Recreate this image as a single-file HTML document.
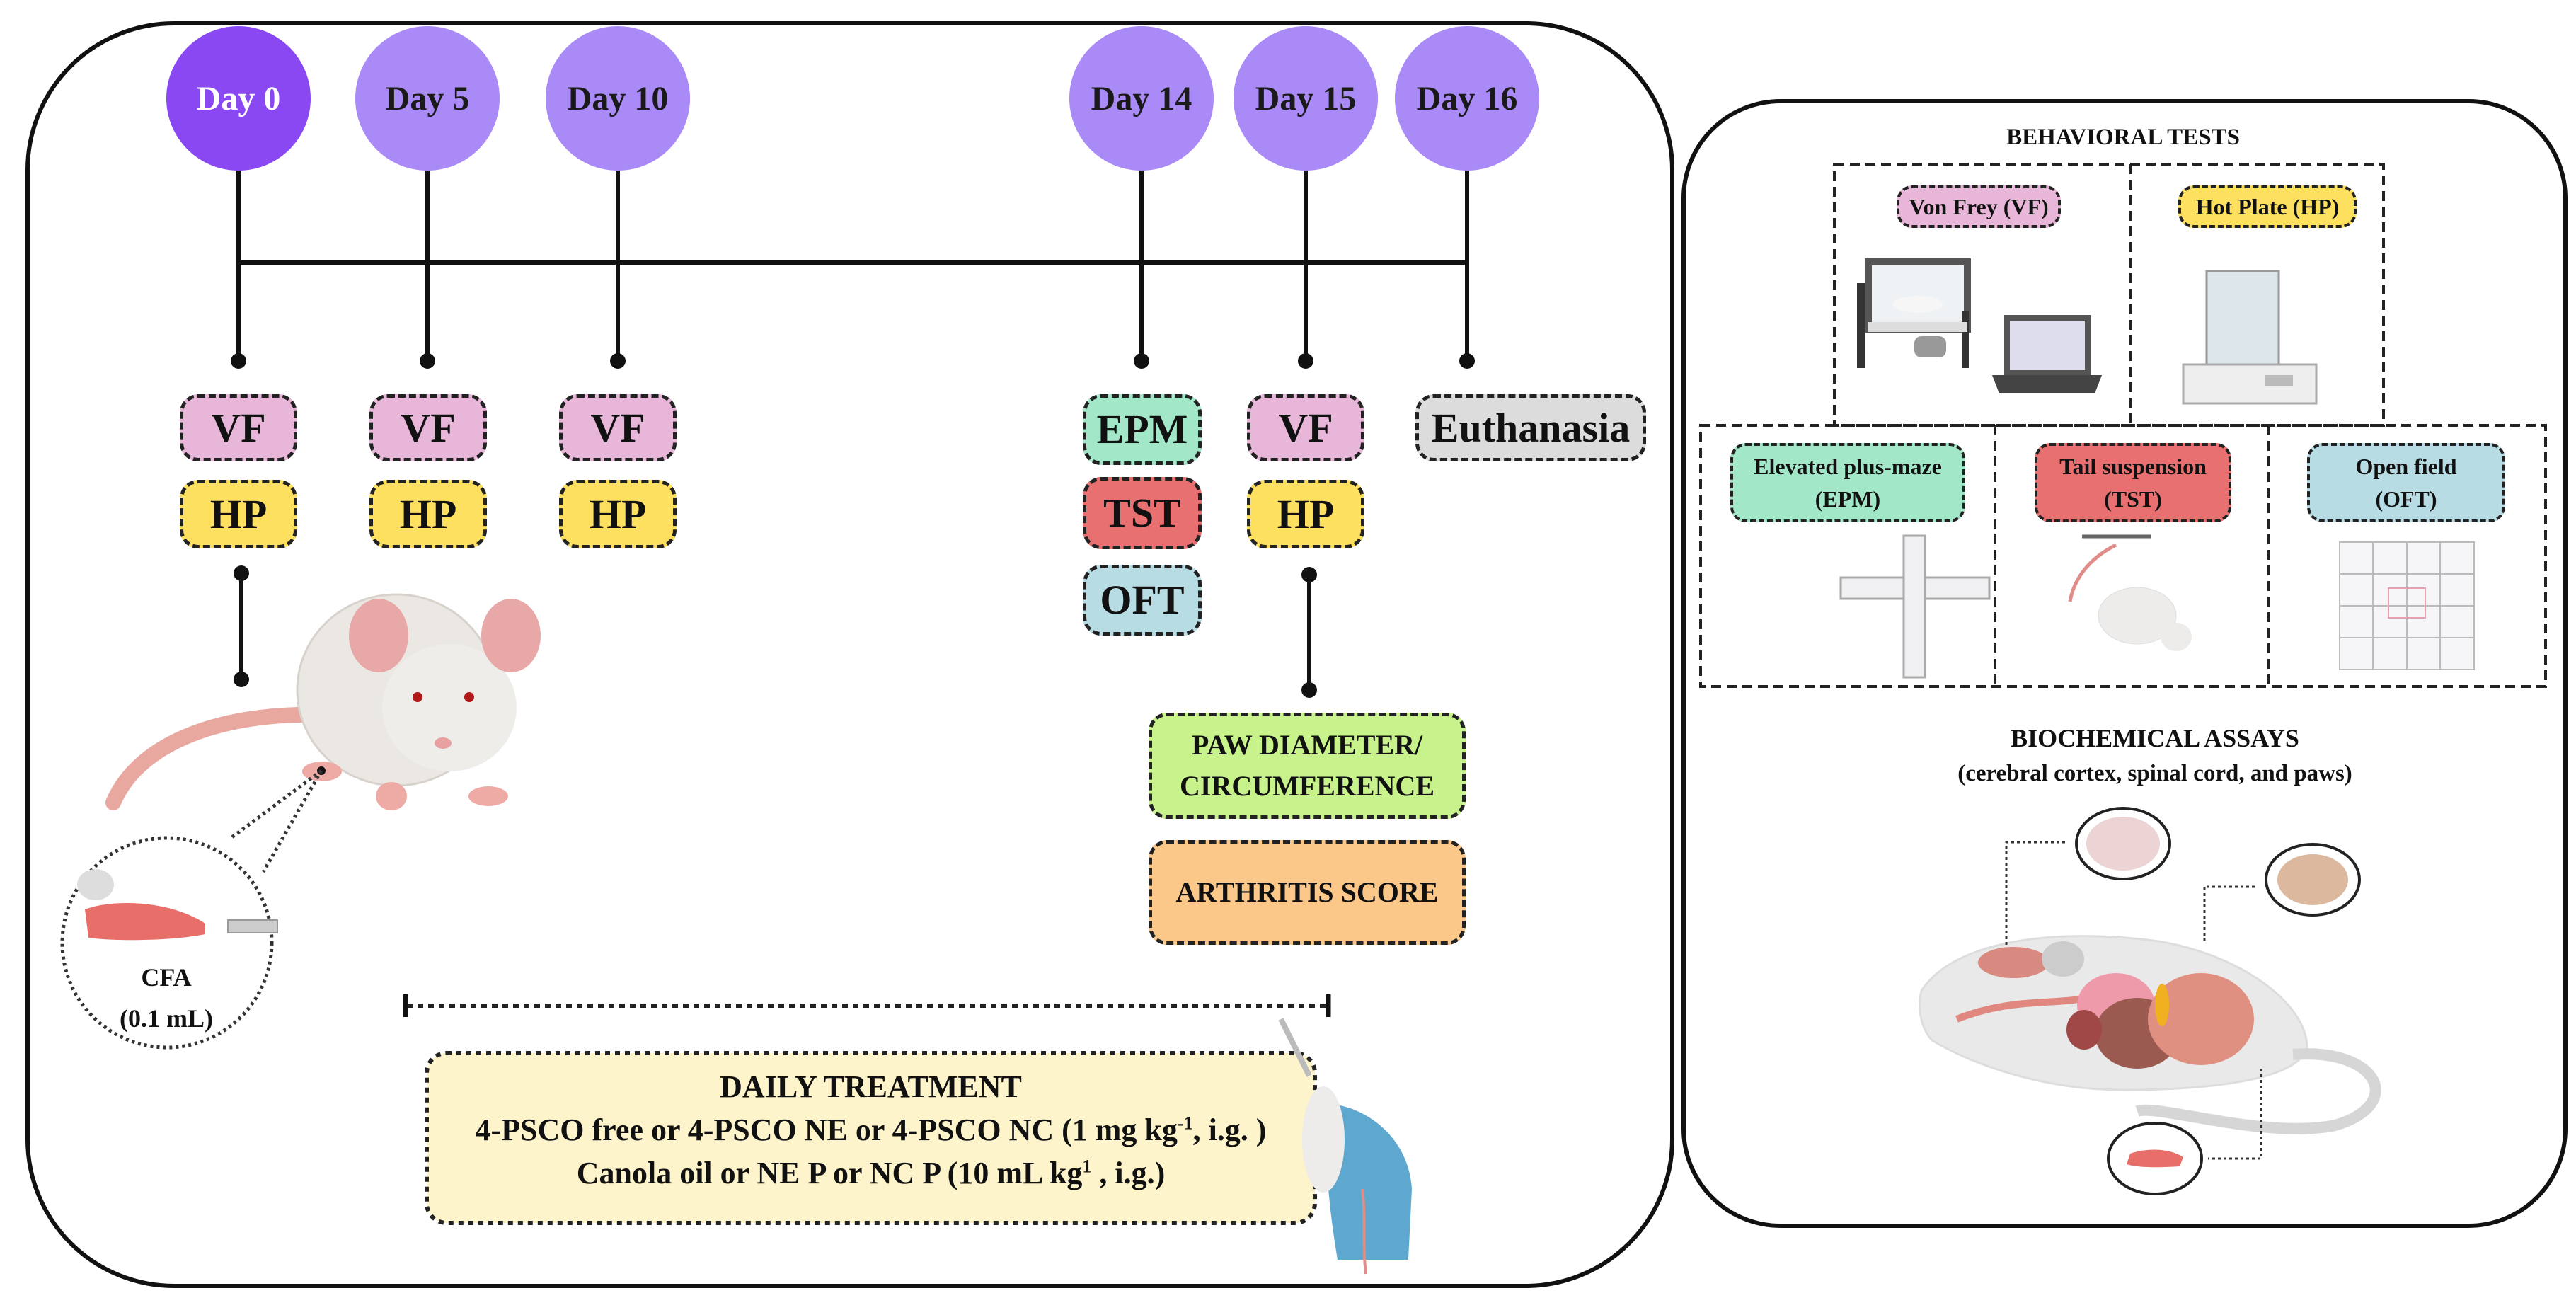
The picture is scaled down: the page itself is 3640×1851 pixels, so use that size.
<!DOCTYPE html>
<html><head><meta charset="utf-8"><style>
html,body{margin:0;padding:0;background:#fff}
body{width:3640px;height:1851px;position:relative;overflow:hidden;font-family:"Liberation Serif",serif;font-weight:bold;color:#111}
.panel{position:absolute;border:6px solid #111;box-sizing:border-box;background:#fff}
.circ{position:absolute;width:204px;height:204px;border-radius:50%;background:#a98af6;display:flex;align-items:center;justify-content:center;font-size:48px;color:#1a1a1a}
.box{position:absolute;box-sizing:border-box;border:5px dashed #222;border-radius:26px;display:flex;align-items:center;justify-content:center;text-align:center;font-size:58px;line-height:1.1}
.pill{position:absolute;box-sizing:border-box;border:4px dashed #222;border-radius:22px;display:flex;align-items:center;justify-content:center;text-align:center;font-size:32px;line-height:1.45}
.t{position:absolute;text-align:center;white-space:nowrap}
sup{line-height:0}
svg{position:absolute;left:0;top:0}
</style></head><body>
<div class="panel" style="left:36px;top:30px;width:2330px;height:1790px;border-radius:210px"></div>
<div class="panel" style="left:2376px;top:140px;width:1252px;height:1595px;border-radius:140px"></div>

<svg width="3640" height="1851" viewBox="0 0 3640 1851">
<g stroke="#111" stroke-width="6" fill="none">
<line x1="337" y1="371" x2="2073" y2="371"/>
<line x1="337" y1="230" x2="337" y2="510"/>
<line x1="604" y1="230" x2="604" y2="510"/>
<line x1="873" y1="230" x2="873" y2="510"/>
<line x1="1613" y1="230" x2="1613" y2="510"/>
<line x1="1845" y1="230" x2="1845" y2="510"/>
<line x1="2073" y1="230" x2="2073" y2="510"/>
<line x1="341" y1="810" x2="341" y2="960"/>
<line x1="1850" y1="810" x2="1850" y2="975"/>
</g>
<g fill="#111">
<circle cx="337" cy="510" r="11"/><circle cx="604" cy="510" r="11"/><circle cx="873" cy="510" r="11"/>
<circle cx="1613" cy="510" r="11"/><circle cx="1845" cy="510" r="11"/><circle cx="2073" cy="510" r="11"/>
<circle cx="341" cy="810" r="11"/><circle cx="341" cy="960" r="11"/>
<circle cx="1850" cy="812" r="11"/><circle cx="1850" cy="975" r="11"/>
</g>
<line x1="575" y1="1421" x2="1875" y2="1421" stroke="#222" stroke-width="6" stroke-dasharray="8 7"/>
<line x1="573" y1="1405" x2="573" y2="1437" stroke="#111" stroke-width="7"/>
<line x1="1877" y1="1405" x2="1877" y2="1437" stroke="#111" stroke-width="7"/>
<rect x="603" y="1488" width="1255" height="240" rx="28" fill="#fdf4cc" stroke="#222" stroke-width="6" stroke-dasharray="7 7"/>
<!-- mouse -->
<path d="M432 1010 C330 1010 200 1040 160 1134" stroke="#e8a8a0" stroke-width="22" fill="none" stroke-linecap="round"/>
<ellipse cx="560" cy="975" rx="140" ry="135" fill="#ebe8e4" stroke="#d8d2cc" stroke-width="3"/>
<ellipse cx="635" cy="1000" rx="95" ry="90" fill="#efedea"/>
<ellipse cx="535" cy="898" rx="42" ry="52" fill="#e8a8a8"/>
<ellipse cx="722" cy="898" rx="42" ry="52" fill="#e8a8a8"/>
<circle cx="590" cy="985" r="7" fill="#b01818"/><circle cx="663" cy="985" r="7" fill="#b01818"/>
<ellipse cx="626" cy="1050" rx="12" ry="8" fill="#e8a0a0"/>
<ellipse cx="455" cy="1090" rx="28" ry="14" fill="#eeaaa4"/>
<ellipse cx="553" cy="1125" rx="22" ry="20" fill="#eeaaa4"/>
<ellipse cx="690" cy="1125" rx="28" ry="14" fill="#eeaaa4"/>
<circle cx="454" cy="1089" r="6" fill="#111"/>
<circle cx="236" cy="1332" r="148" fill="none" stroke="#333" stroke-width="5" stroke-dasharray="4 5"/>
<path d="M454 1089 L325 1185 M454 1089 L372 1232" stroke="#333" stroke-width="5" stroke-dasharray="4 5" fill="none"/>
<ellipse cx="135" cy="1250" rx="26" ry="22" fill="#ddd"/>
<path d="M120 1285 C160 1270 240 1272 290 1305 L290 1320 C240 1330 160 1330 125 1325 Z" fill="#e86e6a"/>
<rect x="322" y="1300" width="70" height="18" fill="#ccc" stroke="#999" stroke-width="2"/>
<!-- hand -->
<path d="M1875 1560 C1920 1560 1990 1600 1995 1680 L1990 1780 L1890 1780 C1880 1720 1870 1640 1875 1560 Z" fill="#5ea8d0"/>
<ellipse cx="1870" cy="1610" rx="30" ry="75" fill="#eeecea"/>
<line x1="1810" y1="1440" x2="1850" y2="1520" stroke="#bbb" stroke-width="8"/>
<path d="M1925 1680 C1930 1720 1925 1760 1930 1800" stroke="#e08c88" stroke-width="4" fill="none"/>

<g stroke="#222" stroke-width="4" stroke-dasharray="14 8" fill="none">
<rect x="2592" y="232" width="776" height="369"/>
<line x1="3011" y1="232" x2="3011" y2="601"/>
<rect x="2403" y="601" width="1194" height="369"/>
<line x1="2819" y1="601" x2="2819" y2="970"/>
<line x1="3206" y1="601" x2="3206" y2="970"/>
</g>
<!-- von frey apparatus -->
<rect x="2640" y="370" width="140" height="95" fill="#eef2f4" stroke="#555" stroke-width="10"/>
<rect x="2624" y="400" width="12" height="120" fill="#333"/><rect x="2772" y="440" width="10" height="80" fill="#333"/>
<rect x="2640" y="455" width="140" height="14" fill="#ddd"/>
<ellipse cx="2710" cy="430" rx="35" ry="12" fill="#f6f6f6"/>
<rect x="2705" y="475" width="45" height="30" rx="10" fill="#999"/>
<rect x="2832" y="445" width="122" height="85" fill="#555"/><rect x="2840" y="453" width="106" height="70" fill="#dde"/>
<path d="M2815 530 H2970 L2960 556 H2825 Z" fill="#444"/>
<!-- hot plate -->
<rect x="3118" y="383" width="102" height="135" fill="#dde6ea" stroke="#999" stroke-width="3"/>
<rect x="3085" y="515" width="188" height="55" fill="#eee" stroke="#aaa" stroke-width="3"/>
<rect x="3200" y="530" width="40" height="16" fill="#bbb"/>
<!-- plus maze -->
<rect x="2601" y="816" width="210" height="30" fill="#f0f0f2" stroke="#aaa" stroke-width="3"/>
<rect x="2690" y="757" width="30" height="200" fill="#f0f0f2" stroke="#aaa" stroke-width="3"/>
<!-- TST -->
<line x1="2942" y1="758" x2="3040" y2="758" stroke="#666" stroke-width="5"/>
<path d="M2990 770 C2950 790 2930 820 2925 850" stroke="#e08c88" stroke-width="5" fill="none"/>
<ellipse cx="3020" cy="870" rx="55" ry="40" fill="#eeecea" stroke="#ddd"/>
<ellipse cx="3075" cy="900" rx="22" ry="20" fill="#eeecea"/>
<g stroke="#bbb" stroke-width="2" fill="#f6f6f8">
<rect x="3306" y="766" width="190" height="180"/>
<line x1="3353" y1="766" x2="3353" y2="946"/><line x1="3401" y1="766" x2="3401" y2="946"/><line x1="3448" y1="766" x2="3448" y2="946"/>
<line x1="3306" y1="811" x2="3496" y2="811"/><line x1="3306" y1="856" x2="3496" y2="856"/><line x1="3306" y1="901" x2="3496" y2="901"/>
</g>
<rect x="3375" y="831" width="52" height="42" fill="none" stroke="#e8a0b0" stroke-width="2"/>
<!-- big mouse -->
<path d="M2715 1400 C2760 1330 2900 1310 3050 1330 C3170 1350 3260 1420 3260 1480 C3250 1520 3150 1540 3000 1540 C2880 1540 2780 1500 2730 1470 C2712 1450 2710 1420 2715 1400 Z" fill="#e9e9e9" stroke="#ddd" stroke-width="3"/>
<path d="M3240 1490 C3360 1480 3400 1560 3300 1590 C3200 1610 3050 1560 3020 1570" stroke="#d6d6d6" stroke-width="16" fill="none"/>
<ellipse cx="2845" cy="1360" rx="50" ry="22" fill="#d88a80"/>
<ellipse cx="2915" cy="1355" rx="30" ry="25" fill="#ccc"/>
<path d="M2765 1440 C2840 1410 2900 1420 2950 1410" stroke="#e08880" stroke-width="10" fill="none"/>
<ellipse cx="2990" cy="1420" rx="55" ry="45" fill="#ee9aaa"/>
<ellipse cx="3020" cy="1460" rx="60" ry="50" fill="#9a5a50"/>
<ellipse cx="3110" cy="1440" rx="75" ry="65" fill="#e09080"/>
<ellipse cx="3055" cy="1420" rx="10" ry="30" fill="#f0b020"/>
<ellipse cx="2945" cy="1455" rx="25" ry="28" fill="#a04848"/>
<g fill="#fff" stroke="#222" stroke-width="4">
<ellipse cx="3000" cy="1192" rx="66" ry="50"/>
<ellipse cx="3268" cy="1243" rx="66" ry="50"/>
<ellipse cx="3045" cy="1637" rx="66" ry="50"/>
</g>
<ellipse cx="3000" cy="1192" rx="52" ry="38" fill="#ecd4d4"/>
<ellipse cx="3268" cy="1243" rx="50" ry="36" fill="#dcb89e"/>
<path d="M3010 1630 C3040 1620 3070 1625 3085 1635 L3080 1648 C3050 1650 3020 1650 3005 1645 Z" fill="#e86e6a"/>
<g stroke="#333" stroke-width="3" stroke-dasharray="4 4" fill="none">
<path d="M2835 1335 V1190 H2920"/>
<path d="M3115 1330 V1253 H3190"/>
<path d="M3195 1510 V1637 H3120"/>
</g>
</svg>

<div class="circ" style="left:235px;top:37px;background:#8a48f2;color:#fff">Day 0</div>
<div class="circ" style="left:502px;top:37px">Day 5</div>
<div class="circ" style="left:771px;top:37px">Day 10</div>
<div class="circ" style="left:1511px;top:37px">Day 14</div>
<div class="circ" style="left:1743px;top:37px">Day 15</div>
<div class="circ" style="left:1971px;top:37px">Day 16</div>

<div class="box" style="left:254px;top:557px;width:166px;height:95px;background:#e8b6d8">VF</div>
<div class="box" style="left:254px;top:678px;width:166px;height:97px;background:#fee060">HP</div>
<div class="box" style="left:522px;top:557px;width:166px;height:95px;background:#e8b6d8">VF</div>
<div class="box" style="left:522px;top:678px;width:166px;height:97px;background:#fee060">HP</div>
<div class="box" style="left:790px;top:557px;width:166px;height:95px;background:#e8b6d8">VF</div>
<div class="box" style="left:790px;top:678px;width:166px;height:97px;background:#fee060">HP</div>
<div class="box" style="left:1530px;top:557px;width:168px;height:100px;background:#a2e8c8">EPM</div>
<div class="box" style="left:1530px;top:674px;width:168px;height:102px;background:#e87070">TST</div>
<div class="box" style="left:1530px;top:798px;width:168px;height:100px;background:#b8dce4">OFT</div>
<div class="box" style="left:1762px;top:557px;width:166px;height:95px;background:#e8b6d8">VF</div>
<div class="box" style="left:1762px;top:678px;width:166px;height:97px;background:#fee060">HP</div>
<div class="box" style="left:2000px;top:557px;width:326px;height:95px;background:#dcdcdc">Euthanasia</div>
<div class="box" style="left:1623px;top:1007px;width:448px;height:150px;background:#c8f28c;font-size:40px;line-height:1.45">PAW DIAMETER/<br>CIRCUMFERENCE</div>
<div class="box" style="left:1623px;top:1187px;width:448px;height:148px;background:#fcc88a;font-size:40px">ARTHRITIS SCORE</div>

<div class="t" style="left:100px;top:1360px;width:270px;font-size:36px">CFA</div>
<div class="t" style="left:100px;top:1418px;width:270px;font-size:36px">(0.1 mL)</div>

<div class="t" style="left:603px;top:1505px;width:1255px;font-size:44px;line-height:61px">DAILY TREATMENT<br>4-PSCO free or 4-PSCO NE or 4-PSCO NC (1 mg kg<sup style="font-size:26px">-1</sup>, i.g. )<br>Canola oil or NE P or NC P (10 mL kg<sup style="font-size:26px">1</sup> , i.g.)</div>

<div class="t" style="left:2700px;top:176px;width:600px;font-size:33px">BEHAVIORAL TESTS</div>
<div class="pill" style="left:2680px;top:262px;width:232px;height:60px;background:#e8b6d8">Von Frey (VF)</div>
<div class="pill" style="left:3078px;top:262px;width:252px;height:60px;background:#fee060">Hot Plate (HP)</div>
<div class="pill" style="left:2445px;top:626px;width:332px;height:112px;background:#a2e8c8">Elevated plus-maze<br>(EPM)</div>
<div class="pill" style="left:2875px;top:626px;width:278px;height:112px;background:#e87070">Tail suspension<br>(TST)</div>
<div class="pill" style="left:3260px;top:626px;width:280px;height:112px;background:#b8dce4">Open field<br>(OFT)</div>
<div class="t" style="left:2700px;top:1022px;width:690px;font-size:36px">BIOCHEMICAL ASSAYS</div>
<div class="t" style="left:2660px;top:1075px;width:770px;font-size:33px">(cerebral cortex, spinal cord, and paws)</div>
</body></html>
